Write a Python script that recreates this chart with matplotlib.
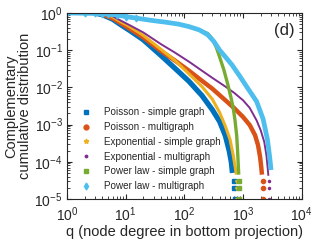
import matplotlib
matplotlib.use("Agg")
import matplotlib.pyplot as plt
from matplotlib.lines import Line2D

plt.rcParams['font.family'] = ['Liberation Sans', 'DejaVu Sans']

# CCDF curves (q, P(Q>=q))
poi_s_q = [3, 4, 6, 8, 12, 20, 40, 70, 120, 200, 300, 400, 500, 580, 630, 660]
poi_s_p = [0.99, 0.9, 0.68, 0.5, 0.33, 0.19, 0.072, 0.032, 0.0145, 0.006,
           0.0025, 0.0012, 5e-4, 2e-4, 1e-4, 5e-5]
poi_s_tail_q = [700, 710, 720]
poi_s_tail_p = [3e-5, 2e-5, 1e-5]

poi_m_q = [3, 4, 6, 8, 12, 20, 40, 70, 120, 200, 300, 500, 700, 1000, 1300,
           1600, 1800, 1950, 2050, 2100]
poi_m_p = [0.99, 0.92, 0.72, 0.55, 0.37, 0.22, 0.095, 0.052, 0.028, 0.015,
           0.0092, 0.0045, 0.0028, 0.0016, 9.7e-4, 5.2e-4, 2.8e-4, 1.35e-4,
           6.8e-5, 4.5e-5]
poi_m_tail_q = [2150, 2150, 2150]
poi_m_tail_p = [3e-5, 2e-5, 1e-5]

exp_s_q = [4, 5, 8, 12, 20, 40, 70, 120, 200, 300, 400, 500, 600, 680, 740, 770]
exp_s_p = [0.99, 0.93, 0.6, 0.42, 0.25, 0.105, 0.052, 0.023, 0.0105, 0.0048,
           0.0021, 9e-4, 4e-4, 1.5e-4, 6.8e-5, 4.5e-5]
exp_s_tail_q = [790, 790, 790]
exp_s_tail_p = [3e-5, 2e-5, 1e-5]

exp_m_q = [4, 5, 8, 12, 20, 40, 70, 120, 200, 300, 500, 700, 1000, 1300, 1700,
           2000, 2300, 2500, 2650, 2700]
exp_m_p = [0.99, 0.95, 0.64, 0.46, 0.3, 0.145, 0.085, 0.049, 0.028, 0.018,
           0.0105, 0.0072, 0.0045, 0.0028, 0.0013, 7e-4, 3.4e-4, 1.5e-4, 6e-5,
           4.2e-5]
exp_m_tail_q = [2750, 2750, 2750]
exp_m_tail_p = [3e-5, 2e-5, 1e-5]

pl_s_q = [1, 2, 3, 4, 5, 7, 10, 15, 20, 30, 50, 80, 120, 180, 250, 300, 350,
          400, 470, 550, 620, 680, 730, 780, 810, 830, 845]
pl_s_p = [1, 0.98, 0.97, 0.95, 0.93, 0.88, 0.8, 0.73, 0.68, 0.62, 0.56, 0.5,
          0.43, 0.35, 0.28, 0.2, 0.12, 0.065, 0.03, 0.012, 0.0055, 0.0028,
          0.0013, 5e-4, 1.8e-4, 8e-5, 4.5e-5]
pl_s_tail_q = [860, 860, 860]
pl_s_tail_p = [3e-5, 2e-5, 1e-5]

pl_m_q = [1, 2, 3, 4, 5, 7, 10, 15, 20, 30, 50, 80, 120, 180, 250, 320, 400,
          500, 650, 880, 1200, 1700, 2200, 2600, 2850, 3000]
pl_m_p = [1, 0.98, 0.97, 0.95, 0.93, 0.88, 0.8, 0.73, 0.68, 0.62, 0.56, 0.5,
          0.43, 0.35, 0.26, 0.17, 0.1, 0.066, 0.04, 0.02, 0.0095, 0.0042,
          0.0014, 4e-4, 1.3e-4, 6e-5]

labels = ['Poisson - simple graph', 'Poisson - multigraph',
          'Exponential - simple graph', 'Exponential - multigraph',
          'Power law - simple graph', 'Power law - multigraph']
colors = ['#0072BD', '#D95319', '#EDB120', '#7E2F8E', '#77AC30', '#4DBEEE']
markers = ['s', 'o', '*', '.', 's', 'd']

fig = plt.figure(figsize=(3.2, 2.4), dpi=100)
ax = fig.add_axes([0.209, 0.171, 0.734, 0.775])

ax.plot(poi_s_q, poi_s_p, '-', color=colors[0], lw=3.8, solid_capstyle='butt')
ax.plot(poi_s_tail_q, poi_s_tail_p, 's', color=colors[0], ms=3, ls='none')
ax.plot(poi_m_q, poi_m_p, '-', color=colors[1], lw=3.2, solid_capstyle='butt')
ax.plot(poi_m_tail_q, poi_m_tail_p, 'o', color=colors[1], ms=3, ls='none')
ax.plot(exp_s_q, exp_s_p, '-', color=colors[2], lw=2.2, solid_capstyle='butt')
ax.plot(exp_s_tail_q, exp_s_tail_p, '*', color=colors[2], ms=3, ls='none')
ax.plot(exp_m_q, exp_m_p, '-', color=colors[3], lw=1.4, solid_capstyle='butt')
ax.plot(exp_m_tail_q, exp_m_tail_p, '.', color=colors[3], ms=3, ls='none')
ax.plot(pl_s_q, pl_s_p, '-', color=colors[4], lw=2.4, solid_capstyle='butt')
ax.plot(pl_s_tail_q, pl_s_tail_p, 's', color=colors[4], ms=2.5, ls='none')
ax.plot(pl_m_q, pl_m_p, '-', color=colors[5], lw=3.4, solid_capstyle='butt')
ax.plot(pl_m_q[:8], pl_m_p[:8], 'd', color=colors[5], ms=3.5, ls='none')

ax.set_xscale('log')
ax.set_yscale('log')
ax.set_xlim(1, 1e4)
ax.set_ylim(1e-5, 1)

ax.tick_params(which='both', direction='in', top=True, right=True,
               labelsize=10, colors='#262626')
ax.tick_params(axis='x', pad=4.5)
ax.tick_params(axis='y', pad=3)
ax.tick_params(which='major', length=3.5)
ax.tick_params(which='minor', length=2)
for s in ax.spines.values():
    s.set_color('#262626')
    s.set_linewidth(0.8)

ax.set_xlabel('q (node degree in bottom projection)', fontsize=10.5,
              color='#262626', labelpad=1)
ax.set_ylabel('Complementary\ncumulative distribution', fontsize=10.5,
              color='#262626', labelpad=2, linespacing=0.95)
ax.text(0.97, 0.945, '(d)', transform=ax.transAxes, ha='right', va='top',
        fontsize=12, color='#262626')

handles = [Line2D([], [], color=c, marker=m, ls='none', ms=3.5)
           for c, m in zip(colors, markers)]
ax.legend(handles, labels, loc='lower left', bbox_to_anchor=(0.036, 0.01),
          frameon=False, fontsize=7.15, handlelength=1.0, handletextpad=1.3,
          labelspacing=0.48, borderaxespad=0.2, labelcolor='#262626')

fig.savefig('out.png', dpi=100)
